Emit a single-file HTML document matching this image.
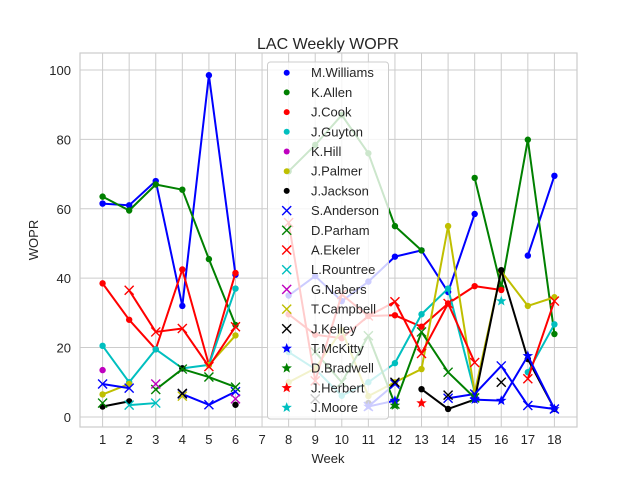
<!DOCTYPE html>
<html><head><meta charset="utf-8"><style>
body{margin:0;background:#fff;}
svg{display:block;font-family:"Liberation Sans",sans-serif;}
</style></head><body>
<svg id="chart" width="640" height="480">
<rect x="0" y="0" width="640" height="480" fill="#fff"/>
<text x="328" y="49" text-anchor="middle" font-size="16" fill="#262626">LAC Weekly WOPR</text>
<g id="grid"></g><g id="series"></g><g id="legend"></g><g id="axes"></g>
<text x="328" y="463" text-anchor="middle" font-size="13" fill="#262626">Week</text>
<text x="38" y="240" text-anchor="middle" font-size="13" fill="#262626" transform="rotate(-90 38 240)">WOPR</text>
</svg>
<script>
const weeks = [1,2,3,4,5,6,7,8,9,10,11,12,13,14,15,16,17,18];
const yTicks = [0,20,40,60,80,100];
const seriesNames = ["M.Williams","K.Allen","J.Cook","J.Guyton","K.Hill","J.Palmer","J.Jackson","S.Anderson","D.Parham","A.Ekeler","L.Rountree","G.Nabers","T.Campbell","J.Kelley","T.McKitty","D.Bradwell","J.Herbert","J.Moore"];
const _ = null;
const mWilliams = [61.5,61,68,32,98.5,41,_,35,40.6,33.4,39,46.2,48,36,58.5,_,46.5,69.5];
const kAllen = [63.5,59.5,67,65.5,45.5,26.5,_,70.8,78.4,87,76,55,48,_,68.9,37.3,79.9,23.9];
const jCook = [38.5,28,19.5,42.5,15,41.5,_,29.6,23.7,22.7,29.1,29.3,26,32.7,37.7,36.6,_,_];
const jGuyton = [20.5,10,19.5,14,15,37,_,18.7,13.8,6.1,10,15.5,29.6,37,7.1,_,12.9,26.7];
const kHill = [13.5,_,_,_,_,_,_,_,_,_,_,_,_,_,_,_,_,_];
const jPalmer = [6.5,9.5,_,_,15,23.5,_,10,14,25,6,10,13.8,55,7,42,32,34.5];
const jJackson = [3,4.5,_,14,_,3.5,_,_,_,_,4,_,8,2.3,5,42.3,16.7,2.3];
const sAnderson = [9.5,8.3,_,6.6,3.5,7.3,_,_,_,_,3,9.5,_,5.4,6.6,14.7,3.3,2.3];
const dParham = [4,_,7.9,13.8,11.5,8.6,_,_,18.7,10,23.4,3.7,24.5,12.9,5.5,_,_,_];
const aEkeler = [_,36.5,24.5,25.5,14.5,26,_,56,10.4,35.3,29.1,33.2,18.3,32.7,15.7,_,11,33.4];
const lRountree = [_,3.4,4,_,_,_,_,_,_,_,_,_,_,_,_,_,_,_];
const gNabers = [_,_,9.5,_,_,5.2,_,_,_,_,_,_,_,_,_,_,_,_];
const tCampbell = [_,_,_,6,_,_,_,_,_,_,_,_,_,_,_,_,_,_];
const jKelley = [_,_,_,6.8,_,_,_,_,5.2,_,_,10,_,6.3,_,10,_,_];
const tMcKitty = [_,_,_,_,_,_,_,_,_,_,3,4.7,_,_,5,4.7,17.6,2.3];
const dBradwell = [_,_,_,_,_,_,_,_,_,_,_,3.3,_,_,_,_,_,_];
const jHerbert = [_,_,_,_,_,_,_,_,_,_,_,_,4,_,_,_,_,_];
const jMoore = [_,_,_,_,_,_,_,_,_,_,_,_,_,_,_,33.4,_,_];
const seriesValues = [mWilliams,kAllen,jCook,jGuyton,kHill,jPalmer,jJackson,sAnderson,dParham,aEkeler,lRountree,gNabers,tCampbell,jKelley,tMcKitty,dBradwell,jHerbert,jMoore];
const colors = ["#0000ff","#008000","#ff0000","#00bfbf","#bf00bf","#bfbf00","#000000"];
const markers = ["o","o","o","o","o","o","o","x","x","x","x","x","x","x","*","*","*","*"];

const NS="http://www.w3.org/2000/svg";
const L=80,R=577,T=53,B=427;
const xMin=0.15,xMax=18.85,yMin=-2.9,yMax=104.9;
function xs(w){return L+(w-xMin)/(xMax-xMin)*(R-L);}
function ys(v){return B-(v-yMin)/(yMax-yMin)*(B-T);}
function mk(tag,attrs,parent){const e=document.createElementNS(NS,tag);for(const k in attrs)e.setAttribute(k,attrs[k]);parent.appendChild(e);return e;}
const grid=document.getElementById('grid'),axes=document.getElementById('axes'),sg=document.getElementById('series'),lg=document.getElementById('legend');
weeks.forEach(w=>{
  const l=mk('line',{x1:xs(w),x2:xs(w),y1:T,y2:B,stroke:'#cccccc','stroke-width':1},grid);
  
  
  const t=mk('text',{x:xs(w),y:B+17,'text-anchor':'middle','font-size':13,fill:'#262626'},axes);
  t.textContent=w;
  
  
});
yTicks.forEach(v=>{
  const l=mk('line',{x1:L,x2:R,y1:ys(v),y2:ys(v),stroke:'#cccccc','stroke-width':1},grid);
  
  
  const t=mk('text',{x:L-9,y:ys(v)+5,'text-anchor':'end','font-size':13,fill:'#262626'},axes);
  t.textContent=v;
  
  
});
const frame=mk('rect',{x:L,y:T,width:R-L,height:B-T,fill:'none',stroke:'#cccccc','stroke-width':1.2},axes);



function starPts(cx,cy,r){let p=[];for(let i=0;i<10;i++){const a=-Math.PI/2+i*Math.PI/5;const rr=i%2?r*0.42:r;p.push((cx+rr*Math.cos(a)).toFixed(1)+','+(cy+rr*Math.sin(a)).toFixed(1));}return p.join(' ');}
function marker(type,cx,cy,col,parent){
  let e;
  if(type==='o'){e=mk('circle',{cx:cx,cy:cy,r:3.2,fill:col},parent);}
  else if(type==='x'){e=mk('path',{d:`M${cx-4.5},${cy-4.5}L${cx+4.5},${cy+4.5}M${cx-4.5},${cy+4.5}L${cx+4.5},${cy-4.5}`,stroke:col,'stroke-width':1.4,fill:'none'},parent);}
  else {e=mk('polygon',{points:starPts(cx,cy,5.5),fill:col},parent);}
  return e;
}
seriesValues.forEach((vals,si)=>{
  const col=colors[si%7];
  const g=mk('g',{},sg);
  
  
  for(let i=0;i<vals.length-1;i++){
    if(vals[i]!==null&&vals[i+1]!==null){
      const s=mk('line',{x1:xs(weeks[i]),y1:ys(vals[i]),x2:xs(weeks[i+1]),y2:ys(vals[i+1]),stroke:col,'stroke-width':2,'stroke-linecap':'round'},g);
      
      
    }
  }
  vals.forEach((v,i)=>{
    if(v===null)return;
    const m=marker(markers[si],xs(weeks[i]),ys(v),col,g);
    
    
  });
});
const box=mk('rect',{x:267.5,y:62,width:121,height:357,rx:3,fill:'#fff','fill-opacity':0.8,stroke:'#cccccc','stroke-width':1},lg);


seriesNames.forEach((n,si)=>{
  const y=72.7+si*19.7;
  const g=mk('g',{},lg);
  
  
  if(markers[si]==='o'){mk('circle',{cx:286.7,cy:y,r:3,fill:colors[si%7]},g);}
  else marker(markers[si],286.7,y,colors[si%7],g);
  const t=mk('text',{x:311,y:y+4.5,'font-size':13,fill:'#262626'},g);
  t.textContent=n;
});
</script>
</body></html>
